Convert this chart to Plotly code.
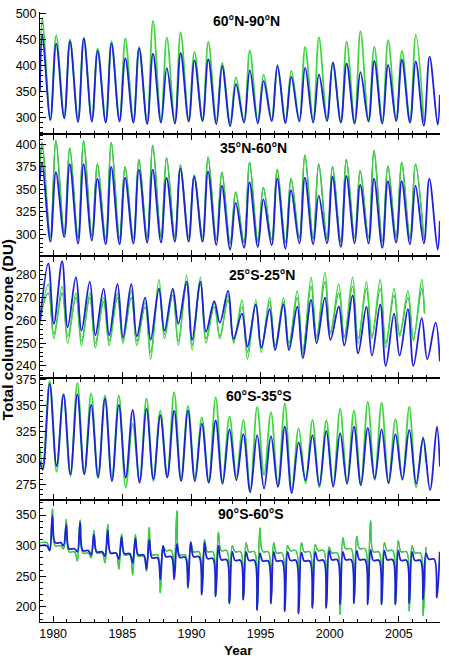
import plotly.graph_objects as go

years = list(range(1979, 2008))

# ---- Panel 1: 60N-90N (peak ~Mar, trough ~Oct)
p1_blue_peak = [460, 442, 447, 452, 428, 442, 414, 433, 423, 395, 424, 410, 412, 399, 364,
                391, 370, 399, 378, 396, 383, 406, 404, 387, 409, 401, 411, 408, 417]
p1_blue_trough = [295, 298, 291, 292, 290, 292, 290, 287, 290, 288, 292, 293, 287, 283, 290,
                  288, 293, 289, 292, 290, 293, 290, 288, 292, 288, 293, 290, 284, 286]
p1_green_peak = [492, 458, 450, 453, 433, 447, 452, 436, 486, 454, 464, 426, 446, 405, 377,
                 429, 382, 401, 390, 436, 454, 405, 446, 466, 436, 449, 428, 459, None]
p1_green_trough = [297, 300, 295, 296, 293, 296, 294, 292, 292, 291, 296, 297, 293, 290, 293,
                   292, 296, 293, 296, 294, 297, 293, 292, 296, 292, 296, 294, 291, None]
p1_blue_start, p1_blue_end = 351, 343
p1_green_start = 352

# ---- Panel 2: 35N-60N
p2_blue_peak = [380, 369, 378, 378, 362, 375, 363, 372, 372, 363, 373, 364, 370, 354, 335,
                358, 339, 362, 349, 363, 343, 364, 365, 355, 362, 359, 359, 354, 362]
p2_blue_trough = [292, 297, 290, 293, 289, 289, 290, 291, 291, 292, 292, 292, 288, 283, 285,
                  286, 288, 284, 290, 289, 290, 286, 290, 290, 285, 291, 289, 290, 283]
p2_green_peak = [402, 404, 396, 404, 378, 402, 375, 383, 399, 385, 377, 366, 386, 369, 347,
                 380, 352, 372, 362, 388, 378, 375, 383, 371, 393, 376, 380, 378, None]
p2_green_trough = [297, 301, 296, 298, 295, 295, 295, 296, 297, 297, 297, 297, 294, 290, 291,
                   292, 294, 291, 296, 295, 295, 292, 296, 296, 292, 297, 295, 294, None]
p2_blue_start, p2_blue_end = 360, 315
p2_green_start = 372

# ---- Panel 3: 25S-25N (peak ~Sep, trough ~Jan)
p3_blue_peak = [285, 286, 279, 277, 274, 276, 276, 270, 274, 274, 277, 277, 268.5, 273, 263,
                267, 265, 267, 266, 269, 270, 266, 271, 266, 267, 263, 265, 261, 259]
p3_blue_trough = [260, 258.5, 257, 255.5, 253.5, 253.5, 252.5, 253, 251.5, 255.5, 258.5, 251.5,
                  255, 259, 252, 248.5, 248, 247, 247, 243.5, 250, 251.5, 249, 245.5, 244.5,
                  240, 244.5, 240, 243]
p3_green_a_peak = [276, 275, 272, 272, 270, 272, 273, 268, 278, 273, 280, 279, 268, 271, 269,
                   269, 270, 270, 273, 279, 281, 276, 279, 277, 278, 274, 273, 278, None]
p3_green_a_trough = [258, 252, 250, 249, 248, 249, 250, 249, 243, 252, 249, 247, 250, 252, 250,
                     243, 246, 247, 248, 245, 252, 254, 252, 250, 252, 248, 253, 251, None]
p3_green_b_peak = [272, 272, 270, 270, 268, 270, 270, 266, 274, 271, 276, 276, 266, 269, 266,
                   267, 268, 268, 270, 275, 277, 272, 275, 274, 274, 271, 270, 274, None]
p3_green_b_trough = [262, 254, 253, 251, 250, 251, 251, 251, 246, 254, 251, 249, 252, 253, 251,
                     246, 248, 249, 250, 247, 253, 255, 253, 252, 253, 250, 254, 252, None]
p3_blue_end = 242
p3_green_end = 263

# ---- Panel 4: 60S-35S (peak ~Oct, trough ~Apr)
p4_blue_peak = [371, 361, 361, 351, 357, 351, 346, 347, 341, 345.5, 345.5, 333, 336, 327.5, 323,
                322, 321, 330, 315, 322, 326, 324, 330, 329, 327.5, 323, 327, 319, 330]
p4_blue_trough = [289, 292.5, 284.5, 284.5, 282, 278, 281.5, 276.5, 280, 281.5, 278, 278, 276.5,
                  275.5, 279, 267.5, 271, 272.5, 266.5, 279, 274, 272.5, 275.5, 274, 280.5, 276,
                  280, 275.5, 269.5]
p4_green_peak = [374, 361, 372, 362, 360, 360, 333, 357, 345.5, 363, 350, 339, 358, 340, 336.5,
                 349, 344, 352, 328.5, 336.5, 336, 347, 345.5, 354, 353, 337, 349, 320, None]
p4_green_trough = [292, 287, 283, 286, 281, 280, 272, 279, 278, 283, 280, 281, 278, 278, 283,
                   270, 284, 274, 270, 276, 272, 275, 277, 276, 279, 277, 279, 272, None]
p4_blue_start, p4_blue_end = 297, 292
p4_green_start, p4_green_end = 310, 296

# ---- Panel 5: 90S-60S (base level, Oct minimum, Dec maximum)
p5_blue_base = [300, 305, 295, 292, 290, 288, 287, 285, 280, 282, 281, 282, 279, 277, 276,
                276, 275, 275, 276, 275, 276, 277, 277, 277, 276, 277, 276, 276, 278]
p5_blue_min = [292, 300, 290, 285, 283, 278, 272, 262, 245, 245, 233, 220, 217, 206, 212,
               195, 206, 193, 189, 198, 198, 204, 206, 204, 204, 204, 206, 212, 215]
p5_blue_max = [349, 334, 338, 318, 325, 314, 312, 310, 300, 303, 306, 305, 300, 290, 290,
               288, 290, 290, 289, 290, 292, 290, 292, 293, 292, 292, 290, 288, 290]
p5_green_base = [305, 300, 290, 288, 288, 288, 285, 283, 285, 292, 285, 290, 290, 292, 290,
                 290, 290, 288, 292, 290, 292, 288, 295, 295, 290, 292, 290, 288, None]
p5_green_min = [295, 295, 275, 280, 272, 262, 252, 258, 223, 262, 230, 222, 218, 205, 212,
                195, 205, 193, 190, 200, 200, 188, 206, 220, 205, 204, 193, 186, None]
p5_green_max = [360, 343, 342, 325, 335, 319, 318, 330, 298, 357, 305, 310, 322, 300, 305,
                329, 305, 300, 305, 302, 298, 313, 315, 341, 305, 308, 300, 298, None]

panel_titles = ["60°N-90°N", "35°N-60°N", "25°S-25°N", "60°S-35°S", "90°S-60°S"]

T0, T1 = 1979.04, 2007.96  # first / last month of the records


def cycle(peaks, troughs, p_phase, t_phase, start=None, end=None, end_t=T1):
    pts = []
    if start is not None:
        pts.append((T0, start))
    for yr, pk, tr in zip(years, peaks, troughs):
        if pk is not None:
            pts.append((yr + p_phase, pk))
        if tr is not None:
            pts.append((yr + t_phase, tr))
    if end is not None:
        pts.append((end_t, end))
    pts.sort()
    return [p[0] for p in pts], [p[1] for p in pts]


def polar(base, mins, maxs):
    pts = []
    for yr, b, mn, mx in zip(years, base, mins, maxs):
        if b is None:
            continue
        pts += [(yr + 0.15, b), (yr + 0.55, b), (yr + 0.75, mn), (yr + 0.95, mx)]
    pts[0] = (T0, pts[0][1])
    return [p[0] for p in pts], [p[1] for p in pts]


BLUE = "#1c22d8"
GREEN = "#3ed83e"
GREEN2 = "#2f9e55"

series = {
    1: [
        (cycle(p1_green_peak, p1_green_trough, 0.22, 0.8, start=p1_green_start), GREEN, 1.8),
        (cycle(p1_blue_peak, p1_blue_trough, 0.22, 0.8, p1_blue_start, p1_blue_end), BLUE, 1.8),
    ],
    2: [
        (cycle(p2_green_peak, p2_green_trough, 0.2, 0.8, start=p2_green_start), GREEN2, 1.6),
        (cycle(p2_green_peak, p2_green_trough, 0.2, 0.8, start=p2_green_start), GREEN, 1.0),
        (cycle(p2_blue_peak, p2_blue_trough, 0.2, 0.8, p2_blue_start, p2_blue_end), BLUE, 1.8),
    ],
    3: [
        (cycle(p3_green_b_peak, p3_green_b_trough, 0.65, 0.05, end=p3_green_end, end_t=2006.85), GREEN2, 1.2),
        (cycle(p3_green_a_peak, p3_green_a_trough, 0.65, 0.05, end=p3_green_end, end_t=2006.85), GREEN, 1.5),
        (cycle(p3_blue_peak, p3_blue_trough, 0.65, 0.05, end=p3_blue_end), BLUE, 1.8),
    ],
    4: [
        (cycle(p4_green_peak, p4_green_trough, 0.75, 0.25, p4_green_start, p4_green_end, 2006.95), GREEN, 1.8),
        (cycle(p4_blue_peak, p4_blue_trough, 0.75, 0.25, p4_blue_start, p4_blue_end), BLUE, 1.8),
    ],
    5: [
        (polar(p5_green_base, p5_green_min, p5_green_max), GREEN2, 1.4),
        (polar(p5_green_base, p5_green_min, p5_green_max), GREEN, 1.0),
        (polar(p5_blue_base, p5_blue_min, p5_blue_max), BLUE, 1.8),
    ],
}

y_ranges = {1: [268, 503], 2: [276, 411.5], 3: [234.7, 288.3], 4: [260, 376.6], 5: [175.3, 374.7]}
y_dticks = {1: 50, 2: 25, 3: 10, 4: 25, 5: 50}
y_minor = {1: 10, 2: 5, 3: 2, 4: 5, 5: 10}

fig = go.Figure()
for i in range(1, 6):
    for (xs, ys), col, w in series[i]:
        fig.add_trace(go.Scatter(x=xs, y=ys, mode="lines", xaxis=f"x{i}", yaxis=f"y{i}",
                                 line=dict(color=col, width=w, shape="spline", smoothing=1.0),
                                 showlegend=False, hoverinfo="skip"))

FONT = "Liberation Sans, Arial, Helvetica, sans-serif"
layout = dict(width=449, height=659, margin=dict(l=40, r=9, t=7, b=37),
              plot_bgcolor="white", paper_bgcolor="white",
              font=dict(family=FONT, size=13, color="black"), showlegend=False)

for i in range(1, 6):
    top = 1 - (i - 1) * 0.2
    bot = 1 - i * 0.2
    layout[f"xaxis{i}"] = dict(
        domain=[0, 1], anchor=f"y{i}", range=[1979.05, 2007.97],
        tick0=1980, dtick=5, ticks="inside", ticklen=6, tickwidth=1, tickcolor="black",
        showline=True, linecolor="black", linewidth=1,
        mirror="ticks" if i > 1 else False,
        showticklabels=(i == 5), tickfont=dict(size=12.5),
        minor=dict(dtick=1, tick0=1980, ticks="inside", ticklen=3.5, tickcolor="black"),
        showgrid=False, zeroline=False)
    layout[f"yaxis{i}"] = dict(
        domain=[max(bot, 0), min(top, 1)], anchor=f"x{i}", range=y_ranges[i],
        dtick=y_dticks[i], ticks="inside", ticklen=6, tickwidth=1, tickcolor="black",
        showline=True, linecolor="black", linewidth=1, tickfont=dict(size=12.5),
        minor=dict(dtick=y_minor[i], ticks="inside", ticklen=3, tickcolor="black"),
        showgrid=False, zeroline=False)

title_pos = [(246.5, 15.7), (253, 144), (262, 272.5), (258.5, 394.5), (250.5, 513.5)]
ann = []
for t, (px, py) in zip(panel_titles, title_pos):
    ann.append(dict(text=f"<b>{t}</b>", x=(px - 40) / 400, y=(622 - py) / 615,
                    xref="paper", yref="paper", showarrow=False,
                    xanchor="center", yanchor="middle", font=dict(size=14)))
ann.append(dict(text="<b>Total column ozone (DU)</b>", x=(7 - 40) / 400, y=(622 - 328) / 615,
                xref="paper", yref="paper", showarrow=False, textangle=-90,
                xanchor="center", yanchor="middle", font=dict(size=15.5)))
ann.append(dict(text="<b>Year</b>", x=(238.5 - 40) / 400, y=(622 - 651) / 615,
                xref="paper", yref="paper", showarrow=False,
                xanchor="center", yanchor="middle", font=dict(size=13.5)))
layout["annotations"] = ann

fig.update_layout(**layout)
fig.write_html("out.html")
